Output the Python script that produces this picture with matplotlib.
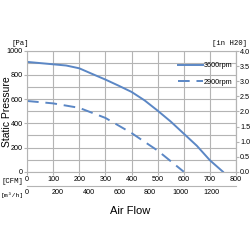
import matplotlib
matplotlib.use('Agg')
import matplotlib.pyplot as plt

plt.rcParams['font.family'] = ['Liberation Sans', 'DejaVu Sans']

# fan curves (CFM -> Pa)
cfm_3600 = [0, 50, 100, 150, 200, 250, 300, 350, 400, 450, 500, 550, 600, 650, 700, 750]
pa_3600 = [908, 898, 888, 878, 855, 808, 762, 712, 660, 590, 505, 415, 315, 215, 95, 0]
cfm_2900 = [0, 100, 200, 300, 400, 500, 600]
pa_2900 = [585, 565, 528, 445, 320, 175, 0]

cfm_ticks = [0, 100, 200, 300, 400, 500, 600, 700, 800]
m3h_ticks = [0, 200, 400, 600, 800, 1000, 1200]
pa_ticks = [0, 200, 400, 600, 800, 1000]
inh2o_ticks = [0.0, 0.5, 1.0, 1.5, 2.0, 2.5, 3.0, 3.5, 4.0]

blue = '#5b87c5'
grid_c = '#b4b4b4'
fs = 5.2

fig = plt.figure(figsize=(2.5, 2.5), dpi=100)
ax = fig.add_axes([0.108, 0.313, 0.836, 0.484])

ax.plot(cfm_3600, pa_3600, color=blue, lw=1.4, label='3600rpm')
ax.plot(cfm_2900, pa_2900, color=blue, lw=1.4, ls=(0, (6, 3.5)), label='2900rpm')

ax.set_xlim(0, 800)
ax.set_ylim(0, 1000)
ax.set_yticks(pa_ticks)
ax.set_yticks(range(100, 1000, 200), minor=True)
ax.set_xticks(cfm_ticks)
ax.grid(True, which='both', color=grid_c, lw=0.8)
ax.tick_params(which='minor', length=0)
ax.tick_params(labelsize=fs, length=2, color=grid_c, pad=1)
for s in ax.spines.values():
    s.set_color(grid_c)

# secondary axes
ax2 = ax.secondary_yaxis('right', functions=(lambda p: p / 249.09, lambda i: i * 249.09))
ax2.set_yticks(inh2o_ticks)
ax2.set_yticklabels(['%.1f' % v for v in inh2o_ticks])
ax2.tick_params(labelsize=fs, length=2, color=grid_c, pad=1)
ax2.spines['right'].set_color(grid_c)

ax3 = ax.secondary_xaxis(-0.118, functions=(lambda c: c * 1.699, lambda m: m / 1.699))
ax3.set_xticks(m3h_ticks)
ax3.tick_params(labelsize=fs, length=0, pad=2)
ax3.spines['bottom'].set_color(grid_c)

mono = 'Liberation Mono'
fig.text(0.045, 0.82, '[Pa]', fontsize=fs, family=mono)
fig.text(0.99, 0.82, '[in H20]', fontsize=fs, ha='right', family=mono)
fig.text(0.005, 0.268, '[CFM]', fontsize=fs, family=mono)
fig.text(0.002, 0.213, '[m\u00b3/h]', fontsize=4.6, family=mono)
fig.text(0.028, 0.555, 'Static Pressure', fontsize=7.5, rotation=90, va='center', ha='center')
fig.text(0.52, 0.145, 'Air Flow', fontsize=8, ha='center')

ax.legend(loc='upper right', bbox_to_anchor=(0.995, 0.93), frameon=False, fontsize=fs,
          handlelength=3.4, handletextpad=0.1, labelspacing=1.3, borderaxespad=0)

fig.savefig('out.png', dpi=100)
